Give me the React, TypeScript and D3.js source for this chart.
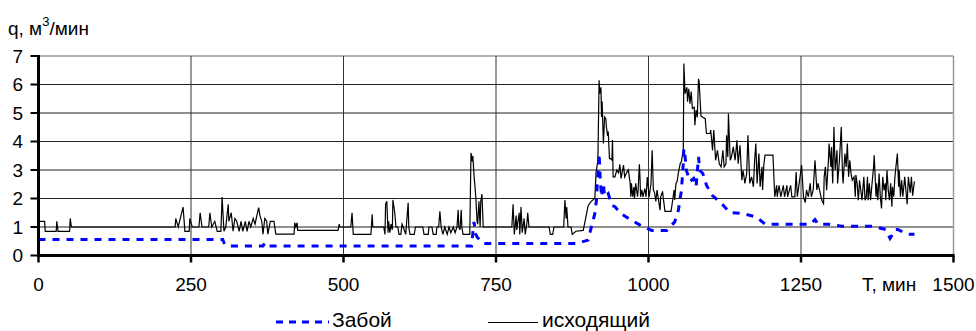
import React from 'react';
import * as d3 from 'd3';

// time, min / q, m3/min
const zaboy: [number, number][] = [
  [0, 0.56], [302, 0.56], [305, 0.4], [311, 0.33], [368, 0.33], [371, 0.44], [375, 0.33],
  [710, 0.33], [712, 0.78], [714, 1.18], [716, 0.78], [719, 0.65], [729, 0.42], [882, 0.42],
  [901, 0.54], [907, 1.06], [912, 1.47], [915, 2.0], [916, 2.53], [918, 3.11], [919, 3.58],
  [921, 2.64], [923, 2.06], [926, 2.53], [928, 2.06], [934, 2.17], [940, 1.76], [945, 1.71],
  [955, 1.47], [970, 1.26], [987, 1.06], [1005, 0.88], [1030, 0.88], [1043, 1.18], [1049, 1.59],
  [1054, 2.29], [1057, 3.23], [1058, 3.75], [1060, 3.46], [1062, 2.99], [1068, 2.6], [1074, 2.7],
  [1078, 2.41], [1082, 3.46], [1084, 2.99], [1089, 2.88], [1095, 2.47], [1104, 2.12], [1120, 1.82],
  [1133, 1.51], [1155, 1.47], [1177, 1.35], [1191, 1.1], [1266, 1.1], [1273, 1.26], [1278, 1.1],
  [1295, 1.1], [1317, 1.03], [1368, 1.03], [1389, 0.91], [1396, 0.6], [1401, 0.77], [1404, 0.91],
  [1409, 0.91], [1424, 0.75], [1436, 0.75],
];

const iskhod: [number, number][] = [
  [0, 1.2], [10, 1.2], [11, 0.85], [29, 0.85], [30, 1.2], [32, 0.85], [51, 0.85], [52, 1.3], [54, 1.0], [224, 1.0],
  [225, 1.3], [229, 1.0], [237, 1.7], [240, 0.85], [247, 0.85], [248, 1.3], [252, 1.0], [263, 1.0], [265, 1.5],
  [268, 1.0], [279, 1.0], [281, 1.5], [284, 1.0], [289, 1.2], [293, 0.85], [299, 0.85], [301, 2.05], [304, 0.85],
  [307, 1.0], [311, 1.8], [312, 1.2], [316, 1.5], [319, 0.85], [322, 1.3], [325, 1.2], [329, 0.85], [332, 1.2],
  [335, 0.85], [339, 1.2], [342, 0.85], [345, 1.2], [348, 1.0], [352, 1.3], [355, 1.1], [360, 1.6], [361, 1.68],
  [363, 1.4], [366, 1.2], [368, 0.75], [371, 1.3], [374, 1.2], [376, 0.75], [380, 1.2], [386, 1.2], [389, 0.75],
  [419, 0.75], [420, 1.15], [422, 1.0], [424, 1.15], [425, 0.88], [491, 0.88], [493, 1.1], [494, 1.0],
  [512, 1.0], [514, 1.5], [516, 0.74], [545, 0.74], [547, 1.45], [548, 1.0], [566, 1.0], [568, 0.74], [569, 1.8],
  [571, 1.9], [573, 0.8], [574, 1.2], [576, 0.8], [578, 1.1], [580, 0.9], [581, 1.95], [584, 1.5], [586, 1.0],
  [589, 1.0], [591, 0.74], [594, 0.74], [596, 1.1], [598, 1.0], [602, 0.74], [606, 1.85], [607, 1.0], [609, 0.74],
  [616, 0.74], [618, 1.0], [630, 1.0], [632, 0.74], [639, 0.74], [640, 1.0], [645, 1.0], [647, 0.74], [652, 0.74],
  [653, 1.0], [656, 1.0], [658, 1.55], [660, 1.0], [663, 0.74], [666, 1.0], [670, 0.74], [673, 1.0], [676, 0.8],
  [680, 1.0], [683, 0.8], [686, 1.0], [688, 1.6], [689, 1.0], [691, 0.9], [693, 1.6], [694, 1.0], [696, 0.74],
  [707, 0.74], [709, 3.6], [711, 3.3], [712, 3.5], [714, 2.8], [716, 2.3], [717, 2.0], [719, 1.2], [720, 1.1],
  [722, 1.9], [724, 1.0], [725, 1.9], [727, 2.15], [729, 1.0],
  [776, 1.0], [778, 1.8], [780, 0.74], [783, 1.4], [784, 0.9], [788, 1.5], [789, 0.74], [791, 1.7], [793, 0.8],
  [796, 1.3], [798, 0.74], [801, 1.2], [802, 1.5], [804, 1.0], [837, 1.0], [839, 0.74], [843, 0.74], [845, 1.0],
  [861, 1.0], [863, 1.95], [865, 1.3], [866, 1.7], [868, 1.0], [873, 1.0], [875, 0.74], [881, 0.85], [893, 0.88],
  [896, 1.2], [901, 1.75], [906, 1.9], [912, 2.0], [914, 2.9], [916, 3.2], [917, 3.3], [919, 6.15],
  [920, 5.68], [922, 5.9], [923, 4.86], [924, 5.4], [926, 3.93], [928, 4.86], [930, 4.8], [931, 4.51], [933, 4.2],
  [934, 4.35], [936, 3.4], [938, 3.4], [940, 3.35], [941, 4.05], [942, 2.76], [945, 2.76], [948, 3.0], [951, 2.9],
  [953, 3.2], [955, 2.7], [959, 3.17], [961, 2.75], [964, 2.9], [967, 3.0], [970, 2.53], [971, 2.06], [972, 2.53],
  [974, 2.06], [976, 2.4], [977, 2.0], [979, 2.53], [982, 2.06], [983, 2.3], [985, 3.2], [986, 2.76], [987, 2.06],
  [989, 2.3], [991, 2.06], [994, 2.35], [996, 2.06], [998, 2.75], [1000, 2.3], [1001, 2.06], [1004, 2.5],
  [1006, 3.69], [1008, 2.3], [1010, 2.2], [1012, 1.9], [1014, 2.3], [1017, 1.86], [1019, 1.59], [1020, 2.06],
  [1023, 2.25], [1024, 2.06], [1027, 1.55], [1037, 1.55], [1040, 2.0], [1042, 2.3], [1043, 1.95], [1045, 2.53],
  [1047, 2.6], [1049, 2.9], [1052, 3.23], [1054, 3.3], [1057, 3.7], [1058, 6.74],
  [1060, 5.68], [1063, 5.9], [1064, 5.4], [1066, 5.85], [1068, 5.33], [1070, 5.75], [1072, 5.16], [1075, 5.2],
  [1076, 4.57], [1078, 5.1], [1080, 4.85], [1082, 6.2], [1083, 6.1], [1086, 4.9], [1089, 4.85], [1093, 4.8],
  [1095, 4.28], [1101, 4.28], [1102, 4.4], [1105, 3.69], [1107, 4.4], [1110, 3.34], [1113, 3.69], [1116, 3.22],
  [1119, 3.11], [1122, 3.69], [1124, 3.11], [1127, 3.22], [1128, 4.22], [1130, 3.46], [1131, 4.98], [1134, 3.34],
  [1136, 3.46], [1139, 3.81], [1142, 3.34], [1145, 4.04], [1147, 3.22], [1150, 3.87], [1153, 2.64], [1155, 2.99],
  [1158, 2.53], [1161, 2.88], [1163, 4.22], [1165, 3.11], [1166, 2.53], [1169, 2.76], [1172, 2.41], [1174, 3.34],
  [1176, 3.93], [1178, 2.53], [1181, 3.58], [1183, 2.41], [1186, 3.11], [1187, 2.3], [1189, 3.17], [1191, 3.52],
  [1204, 3.52], [1207, 2.06], [1210, 2.46], [1211, 2.06], [1214, 2.46], [1217, 2.06], [1221, 2.46], [1223, 2.06],
  [1227, 2.46], [1228, 2.06], [1233, 2.46], [1235, 2.06], [1240, 2.06], [1242, 2.93], [1244, 2.06], [1247, 2.53],
  [1251, 3.17], [1254, 2.06], [1257, 1.86], [1259, 2.3], [1262, 2.06], [1265, 2.53], [1267, 2.06], [1270, 2.3],
  [1273, 3.34], [1276, 2.3], [1278, 2.53],
  [1281, 2.23], [1284, 1.94], [1287, 1.82], [1288, 2.76], [1290, 3.11], [1292, 2.29], [1295, 3.34], [1296, 3.93],
  [1299, 3.11], [1300, 3.81], [1302, 2.53], [1304, 4.51], [1306, 2.99], [1309, 3.69], [1310, 2.53], [1313, 3.34],
  [1316, 4.51], [1318, 2.88], [1319, 2.53], [1322, 3.58], [1324, 3.11], [1326, 3.93], [1328, 2.76], [1330, 3.34],
  [1332, 2.88], [1334, 2.64], [1337, 2.76], [1339, 2.06], [1340, 2.82], [1342, 2.53], [1344, 1.94], [1346, 2.64],
  [1348, 2.29], [1350, 1.94], [1353, 2.76], [1355, 1.94], [1357, 2.06], [1359, 2.76], [1360, 1.94], [1362, 2.53],
  [1364, 1.94], [1366, 2.41], [1369, 3.11], [1370, 3.52], [1373, 2.06], [1374, 2.53], [1376, 1.94], [1378, 2.88],
  [1380, 2.06], [1382, 1.65], [1384, 2.76], [1386, 2.29], [1388, 2.53], [1389, 1.94], [1391, 2.99], [1393, 2.29],
  [1395, 1.94], [1397, 2.53], [1399, 1.71], [1400, 2.41], [1402, 2.06], [1404, 2.76], [1405, 2.99], [1408, 3.58],
  [1410, 2.41], [1411, 2.99], [1413, 2.06], [1415, 2.64], [1417, 2.06], [1420, 2.76], [1424, 1.8], [1426, 2.76],
  [1429, 2.2], [1431, 2.76], [1433, 2.1], [1436, 2.6],
];

const xTicks = [0, 250, 500, 750, 1000, 1250, 1500];
const yTicks = [0, 1, 2, 3, 4, 5, 6, 7];

const W = 976;
const H = 331;
const FONT = "'Liberation Sans', Arial, sans-serif";

export default function App() {
  const x = d3.scaleLinear().domain([0, 1500]).range([38.5, 953.5]);
  const y = d3.scaleLinear().domain([0, 7]).range([255.5, 56]);

  const line = d3
    .line<[number, number]>()
    .x(d => x(d[0]))
    .y(d => y(d[1]));

  return (
    <svg
      width={W}
      height={H}
      style={{ position: 'absolute', left: 0, top: 0, background: '#fff' }}
      fontFamily={FONT}
    >
      {/* grid */}
      {yTicks.slice(1, -1).map(t => (
        <line key={'gy' + t} x1={x(0)} x2={x(1500)} y1={y(t)} y2={y(t)} stroke="#222" strokeWidth={1.2} />
      ))}
      <line x1={x(0)} x2={x(1500)} y1={y(7)} y2={y(7)} stroke="#999" strokeWidth={1.5} />
      {xTicks.slice(1, -1).map(t => (
        <line key={'gx' + t} x1={x(t)} x2={x(t)} y1={y(7)} y2={y(0)} stroke="#333" strokeWidth={1} />
      ))}
      <line x1={x(1500)} x2={x(1500)} y1={y(7)} y2={y(0)} stroke="#999" strokeWidth={1.5} />

      {/* series */}
      <path d={line(iskhod) || ''} fill="none" stroke="#000" strokeWidth={1.2} />
      <path d={line(zaboy) || ''} fill="none" stroke="#0000ff" strokeWidth={3} strokeDasharray="7,7" />

      {/* axes */}
      <line x1={x(0)} x2={x(0)} y1={y(7) - 1} y2={y(0) + 1.5} stroke="#000" strokeWidth={3} />
      <line x1={x(0) - 1.5} x2={x(1500) + 1} y1={y(0)} y2={y(0)} stroke="#000" strokeWidth={3} />
      {yTicks.map(t => (
        <g key={'ty' + t}>
          <line x1={x(0) - 8} x2={x(0)} y1={y(t)} y2={y(t)} stroke="#000" strokeWidth={2} />
          <text x={23} y={y(t)} dy="0.36em" textAnchor="end" fontSize={19}>
            {t}
          </text>
        </g>
      ))}
      {xTicks.map(t => (
        <g key={'tx' + t}>
          <line x1={x(t)} x2={x(t)} y1={y(0)} y2={y(0) + 7} stroke="#000" strokeWidth={2.5} />
          <text x={x(t)} y={290.5} textAnchor="middle" fontSize={19}>
            {t}
          </text>
        </g>
      ))}

      {/* axis titles */}
      <text x={8} y={35} fontSize={19}>
        q, м<tspan dy={-9} fontSize={13}>3</tspan>
        <tspan dy={9}>/мин</tspan>
      </text>
      <text x={862} y={290.5} fontSize={19}>
        T, мин
      </text>

      {/* legend */}
      <line x1={276} x2={329} y1={322} y2={322} stroke="#0000ff" strokeWidth={3} strokeDasharray="7,6" />
      <text x={332} y={326.5} fontSize={21}>
        Забой
      </text>
      <line x1={488} x2={538} y1={322.5} y2={322.5} stroke="#000" strokeWidth={1.2} />
      <text x={542} y={326.5} fontSize={21}>
        исходящий
      </text>
    </svg>
  );
}
